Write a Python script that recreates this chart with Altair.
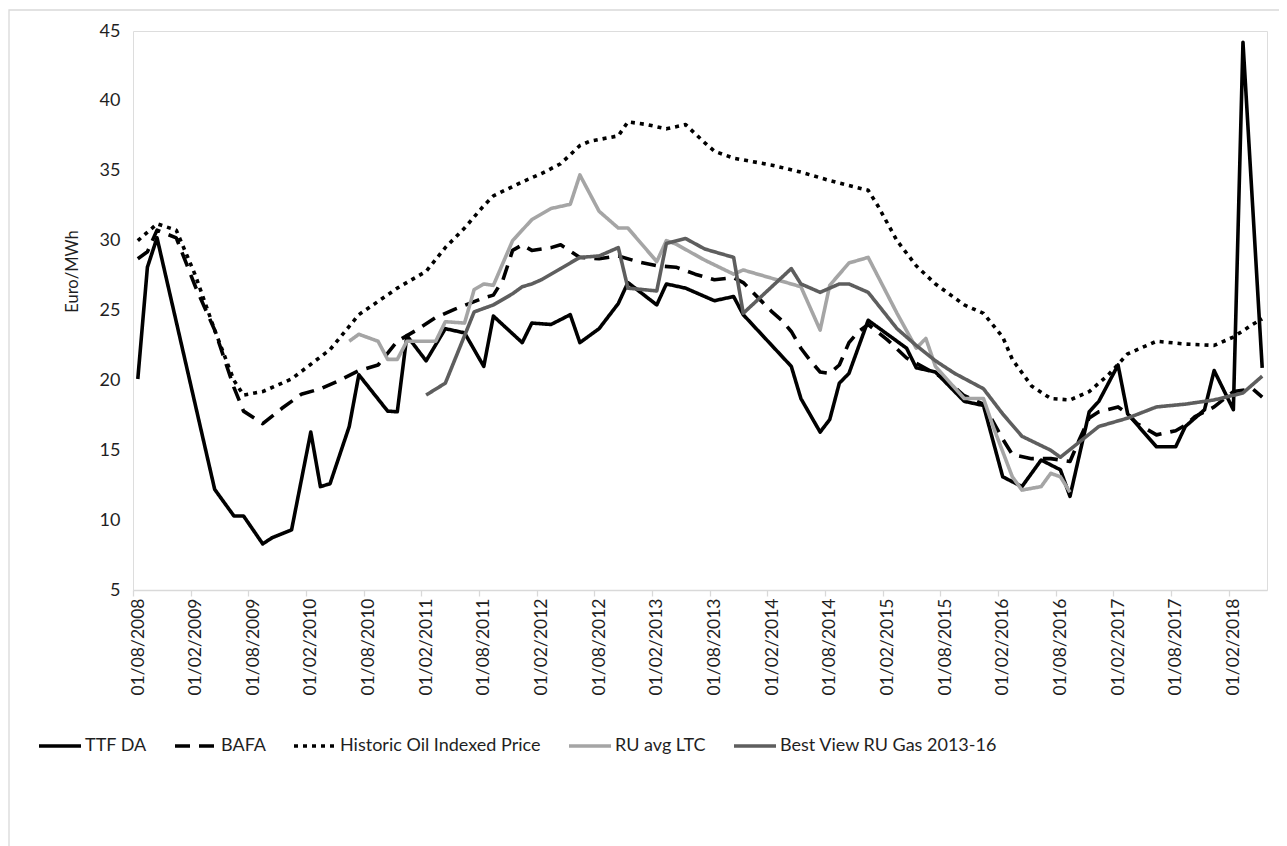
import altair as alt
import pandas as pd

# ---------------- data (month index 0 = Aug 2008) ----------------
series_names = ["TTF DA", "BAFA", "Historic Oil Indexed Price", "RU avg LTC", "Best View RU Gas 2013-16"]
series_colors = ["#000000", "#000000", "#000000", "#A5A5A5", "#5E5E5E"]
series_dashes = [[1, 0], [15, 9], [4, 5], [1, 0], [1, 0]]

ttf_m = [0, 1, 2, 8, 10, 11, 13, 14, 16, 18, 19, 20, 22, 23, 26, 27, 28, 30, 32, 34,
         36, 37, 40, 41, 43, 45, 46, 48, 50, 51, 54, 55, 57, 60, 62, 63, 68, 69, 71, 72,
         73, 74, 76, 80, 81, 83, 86, 88, 90, 92, 94, 96, 97, 99, 100, 102, 103, 106, 108, 109,
         111, 112, 114, 115, 117]
ttf_v = [20.1, 28.1, 30.2, 12.2, 10.3, 10.3, 8.3, 8.75, 9.3, 16.3, 12.4, 12.6, 16.7, 20.4, 17.8, 17.75, 23.2, 21.4, 23.7, 23.4,
         21.0, 24.6, 22.7, 24.1, 24.0, 24.7, 22.7, 23.7, 25.5, 27.0, 25.4, 26.9, 26.6, 25.7, 26.0, 24.7, 21.0, 18.7, 16.3, 17.2,
         19.8, 20.5, 24.3, 22.3, 20.9, 20.6, 18.5, 18.2, 13.1, 12.4, 14.3, 13.6, 11.7, 17.75, 18.5, 21.1, 17.6, 15.25, 15.25, 16.7,
         17.9, 20.7, 17.9, 44.2, 20.9]

bafa_m = [0, 1, 2, 4, 6, 8, 10, 11, 13, 15, 17, 19, 21, 23, 25, 27, 29, 31, 33, 36,
          37, 38, 39, 40, 41, 43, 44, 46, 48, 50, 52, 54, 56, 58, 60, 62, 63, 64, 65, 66, 67,
          68, 69, 70, 71, 72, 73, 74, 75, 76, 78, 80, 84, 86, 88, 90, 91, 93, 95, 97, 98,
          99, 100, 102, 103, 104, 106, 108, 109, 110, 112, 114, 116, 117]
bafa_v = [28.7, 29.2, 30.75, 30.2, 26.7, 23.6, 19.5, 17.8, 16.9, 18.0, 19.0, 19.4, 20.0, 20.7, 21.1, 22.8, 23.6, 24.5, 25.1, 25.9,
          26.1, 27.2, 29.3, 29.7, 29.3, 29.5, 29.7, 28.8, 28.7, 28.9, 28.5, 28.2, 28.1, 27.6, 27.2, 27.35, 27.0, 26.3, 25.6, 24.9, 24.3,
          23.5, 22.3, 21.4, 20.6, 20.5, 21.1, 22.7, 23.5, 24.0, 22.9, 21.6, 20.1, 18.9, 18.3, 15.8, 14.7, 14.4, 14.4, 14.2, 15.8,
          17.3, 17.75, 18.1, 17.6, 16.9, 16.1, 16.4, 16.8, 17.4, 18.1, 19.2, 19.4, 18.8]

hist_m = [0, 2, 4, 6, 8, 10, 11, 13, 16, 20, 23, 27, 30, 32, 34, 36, 37, 40, 42, 44,
          46, 47, 50, 51, 53, 55, 57, 59, 60, 62, 66, 69, 72, 76, 77, 79, 81, 83, 86, 88,
          90, 91, 93, 95, 97, 99, 101, 103, 106, 109, 112, 114, 116, 117]
hist_v = [30.0, 31.2, 30.75, 27.5, 23.6, 20.0, 18.95, 19.2, 20.1, 22.2, 24.7, 26.6, 27.8, 29.5, 30.9, 32.5, 33.2, 34.2, 34.8, 35.5,
          36.8, 37.1, 37.5, 38.5, 38.3, 38.0, 38.3, 37.0, 36.4, 35.9, 35.4, 34.9, 34.3, 33.6, 32.5, 30.0, 28.2, 26.9, 25.4, 24.8,
          23.1, 21.5, 19.6, 18.7, 18.6, 19.2, 20.4, 21.9, 22.8, 22.6, 22.5, 23.1, 24.0, 24.4]

ru_m = [22, 23, 25, 26, 27, 28, 31, 32, 34, 35, 36, 37, 39, 41, 43, 45, 46, 48, 50, 51,
        54, 55, 56, 59, 62, 63, 68, 69, 71, 72, 74, 76, 79, 81, 82, 83, 86, 88, 89, 91,
        92, 94, 95, 96, 97]
ru_v = [22.8, 23.3, 22.8, 21.5, 21.5, 22.8, 22.8, 24.2, 24.1, 26.5, 26.9, 26.8, 30.0, 31.5, 32.3, 32.6, 34.7, 32.1, 30.9, 30.9,
        28.5, 30.0, 29.75, 28.6, 27.6, 27.9, 26.9, 26.7, 23.6, 26.8, 28.4, 28.8, 24.8, 22.3, 23.0, 21.0, 18.7, 18.7, 16.7, 13.1,
        12.15, 12.4, 13.35, 13.1, 12.0]

bv_m = [30, 32, 35, 37, 39, 40, 41, 42, 44, 46, 48, 50, 51, 54, 55, 57, 59, 62, 63, 68,
        69, 71, 73, 74, 76, 79, 81, 83, 85, 88, 90, 92, 95, 96, 98, 100, 103, 106, 109, 112,
        115, 117]
bv_v = [18.95, 19.8, 24.9, 25.4, 26.2, 26.7, 26.9, 27.2, 28.0, 28.8, 28.9, 29.5, 26.6, 26.4, 29.8, 30.15, 29.4, 28.8, 24.8, 28.0,
        26.9, 26.3, 26.9, 26.9, 26.3, 23.7, 22.5, 21.4, 20.5, 19.4, 17.6, 16.0, 15.0, 14.5, 15.6, 16.7, 17.3, 18.1, 18.3, 18.6,
        19.1, 20.3]

tick_values = list(range(0, 115, 6))
tick_labels = ["01/08/2008", "01/02/2009", "01/08/2009", "01/02/2010", "01/08/2010",
               "01/02/2011", "01/08/2011", "01/02/2012", "01/08/2012", "01/02/2013",
               "01/08/2013", "01/02/2014", "01/08/2014", "01/02/2015", "01/08/2015",
               "01/02/2016", "01/08/2016", "01/02/2017", "01/08/2017", "01/02/2018"]
y_ticks = [5, 10, 15, 20, 25, 30, 35, 40, 45]

# ---------------- table ----------------
rows = []
for name, ms, vs in zip(series_names, [ttf_m, bafa_m, hist_m, ru_m, bv_m], [ttf_v, bafa_v, hist_v, ru_v, bv_v]):
    for m, v in zip(ms, vs):
        rows.append({"series": name, "x": m + 0.5, "value": v})
df = pd.DataFrame(rows)

FONT = "Lato"
TXT = "#1f1f1f"
FS = 18
label_js = "[" + ",".join("'" + t + "'" for t in tick_labels) + "]"

legend = alt.Legend(
    title=None, orient="none", legendX=-96, legendY=692, direction="horizontal",
    symbolType="stroke", symbolSize=1764, symbolStrokeWidth=3.6,
    labelFont=FONT, labelFontSize=FS, labelColor=TXT, labelLimit=400,
    labelOffset=2, columnPadding=20, symbolOffset=0, padding=0,
)

x_enc = alt.X(
    "x:Q",
    scale=alt.Scale(domain=[0, 118], nice=False, zero=False),
    axis=alt.Axis(
        values=tick_values, labelExpr=label_js + "[round(datum.value / 6)]",
        title=None, grid=False, domainColor="#D9D9D9", domainWidth=1.3,
        tickColor="#D9D9D9", tickWidth=1.3, tickSize=6,
        labelAngle=270, labelAlign="right", labelBaseline="middle",
        labelOffset=5, labelPadding=2, labelFont=FONT, labelFontSize=17.5,
        labelColor=TXT, labelOverlap=False, labelBound=False,
    ),
)
y_enc = alt.Y(
    "value:Q",
    scale=alt.Scale(domain=[5, 45], nice=False, zero=False),
    axis=alt.Axis(
        values=y_ticks, grid=False, domain=False, ticks=False, labelPadding=13,
        labelFont=FONT, labelFontSize=FS, labelColor=TXT,
        title="Euro/MWh", titleFont=FONT, titleFontSize=16.5, titleFontWeight="normal",
        titleColor=TXT, titleAngle=270, titleX=-61, titleY=240,
        titleAlign="center", titleBaseline="middle",
    ),
)
color_enc = alt.Color("series:N", scale=alt.Scale(domain=series_names, range=series_colors), legend=legend)
dash_enc = alt.StrokeDash("series:N", scale=alt.Scale(domain=series_names, range=series_dashes), legend=legend)

layers = []
frame = alt.Chart(pd.DataFrame({"f": [0]})).mark_rect(
    fill=None, stroke="#D9D9D9", strokeWidth=1.3
).encode(x=alt.value(-124), x2=alt.value(1180), y=alt.value(-21), y2=alt.value(900))
layers.append(frame)

for name in series_names:
    layers.append(
        alt.Chart(df).transform_filter(alt.datum.series == name)
        .mark_line(strokeWidth=3.6, strokeJoin="round")
        .encode(x=x_enc, y=y_enc, color=color_enc, strokeDash=dash_enc, order="x:Q")
    )

chart = alt.layer(*layers).properties(
    width=1134, height=559,
    autosize=alt.AutoSizeParams(type="none"),
    padding={"left": 125, "top": 23, "right": 12, "bottom": 256},
).configure_view(stroke=None).configure(background="white")

chart.save("out.html", embed_options={"renderer": "svg", "actions": False})
